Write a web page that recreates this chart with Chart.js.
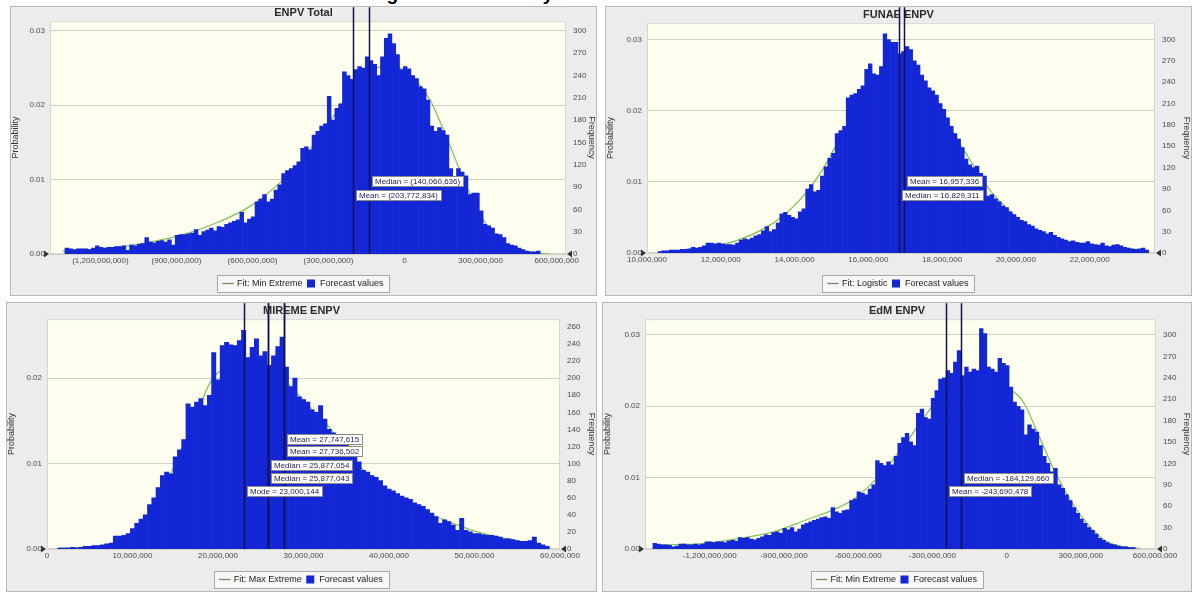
<!DOCTYPE html>
<html>
<head>
<meta charset="utf-8">
<script src="https://cdn.jsdelivr.net/npm/chart.js@4.4.1/dist/chart.umd.min.js"></script>
<style>
html,body{margin:0;padding:0;background:#fff;width:1192px;height:592px;overflow:hidden;font-family:"Liberation Sans",Arial,sans-serif;position:relative}
#figTitle{position:absolute;left:29px;top:-17px;width:1192px;text-align:center;font:bold 19px "Liberation Sans",Arial,sans-serif;color:#000;white-space:nowrap}
.panel{position:absolute;background:#ececec;outline:1px solid #b8b8b8;outline-offset:-1px;overflow:hidden}
.panel canvas{position:absolute;left:0;top:0}
</style>
</head>
<body>
<div id="figTitle">Figure 5: Probability Distributions of Stakeholder ENPVs</div>
<div class="panel" style="left:10px;top:6px;width:587px;height:290px"><canvas id="c1" width="587" height="292"></canvas></div>
<div class="panel" style="left:605px;top:6px;width:587px;height:290px"><canvas id="c2" width="587" height="292"></canvas></div>
<div class="panel" style="left:6px;top:302px;width:591px;height:290px"><canvas id="c3" width="591" height="292"></canvas></div>
<div class="panel" style="left:602px;top:302px;width:590px;height:290px"><canvas id="c4" width="590" height="292"></canvas></div>
<script>
// ---------------- DATA ----------------
// Panel 1: ENPV Total
const totalTitle = 'ENPV Total';
const totalFitName = 'Fit: Min Extreme';
const totalBinStart = -1340e6;
const totalBinWidth = 15e6;
const totalFreq = [8,7,6,7,7,7,6,8,11,9, 8,9,9,10,10,11,5,12,11,13, 14,22,16,15,17,18,16,19,12,25,
  26,26,27,28,33,25,30,32,35,31, 37,36,40,42,44,46,56,42,47,50, 70,74,80,70,74,86,93,108,112,115,
  119,124,142,144,140,160,165,172,175,212, 180,196,202,245,240,235,248,252,250,265,
  260,255,240,265,290,296,283,268,248,252, 249,240,236,225,222,207,172,165,170,166,
  160,115,104,115,110,105,80,82,82,58, 40,38,35,27,26,22,14,12,11,8, 6,4,3,3,4];
const totalFitX = [-1349e6,-1268e6,-1136e6,-1005e6,-873e6,-741e6,-610e6,-478e6,-399e6,-347e6,-281e6,-215e6,-149e6,-84e6,-18e6,48e6,101e6,140e6,180e6,219e6,259e6,298e6,338e6,377e6,443e6,509e6,574e6];
const totalFitY = [4,5,9,16,26,42,64,100,128,153,185,218,240,253,250,232,207,178,145,112,80,53,32,18,7,2,0];
const totalXTicks = [-1200e6,-900e6,-600e6,-300e6,0,300e6,600e6];
const totalFreqTicks = [0,30,60,90,120,150,180,210,240,270,300];
const totalProbTicks = [0,0.01,0.02,0.03];
const totalStatValues = [-140060636,-203772834];
const totalStatLabels = ['Median = (140,060,636)','Mean = (203,772,834)'];

// Panel 2: FUNAE ENPV
const funaeTitle = 'FUNAE ENPV';
const funaeFitName = 'Fit: Logistic';
const funaeBinStart = 10.3e6;
const funaeBinWidth = 0.1e6;
const funaeFreq = [2,3,3,4,4,4,5,5,6,8, 7,8,10,14,14,13,14,13,12,12, 11,14,18,20,19,21,24,26,31,37,
  30,33,42,55,57,53,50,48,58,62, 90,96,86,88,108,121,133,140,168,172, 178,218,222,224,230,235,258,266,252,250,
  262,308,300,296,296,280,283,290,286,270, 264,250,242,232,228,222,210,202,190,178,
  168,160,148,132,124,120,122,112,108,80, 82,76,72,66,64,58,54,50,46,44,
  40,38,34,32,30,27,29,25,22,20, 18,16,17,15,14,14,16,13,12,11, 14,10,9,11,12,10,8,7,6,5, 6,7,4];
const funaeFitX = [10.71e6,11.62e6,12.52e6,13.42e6,13.88e6,14.33e6,14.78e6,15.23e6,15.68e6,16.13e6,16.59e6,16.81e6,17.04e6,17.49e6,17.94e6,18.39e6,18.84e6,19.30e6,19.75e6,20.20e6,20.65e6,21.10e6,21.55e6,22.46e6,23.36e6];
const funaeFitY = [2,7,19,42,61,86,119,162,204,239,257,260,255,236,204,162,124,88,63,42,28,19,12,5,2];
const funaeXTicks = [10e6,12e6,14e6,16e6,18e6,20e6,22e6];
const funaeFreqTicks = [0,30,60,90,120,150,180,210,240,270,300];
const funaeProbTicks = [0,0.01,0.02,0.03];
const funaeStatValues = [16957336,16829311];
const funaeStatLabels = ['Mean = 16,957,336','Median = 16,829,311'];

// Panel 3: MIREME ENPV
const miremeTitle = 'MIREME ENPV';
const miremeFitName = 'Fit: Max Extreme';
const miremeBinStart = 1.25e6;
const miremeBinWidth = 0.5e6;
const miremeFreq = [1,1,1,2,1,2,3,3,4,4, 5,6,7,15,15,16,18,24,30,35, 40,52,60,72,86,90,88,108,116,128,
  170,166,172,176,168,180,230,198,238,242, 239,238,244,256,224,236,246,226,231,215,
  226,237,248,213,190,200,178,175,172,163, 160,168,152,140,136,131,128,122,118,108,
  102,92,90,86,84,80,74,70,68,65, 62,60,58,54,52,50,46,42,38,30, 34,32,28,22,36,22,20,18,18,17,
  16,16,15,14,12,12,11,10,9,9, 10,14,7,5,3];
const miremeFitX = [1.40e6,7.45e6,9.40e6,11.35e6,13.30e6,15.24e6,17.19e6,19.14e6,21.09e6,23.82e6,26.94e6,28.50e6,30.84e6,32.79e6,36.29e6,38.63e6,42.53e6,46.43e6,50.33e6,54.23e6,58.13e6];
const miremeFitY = [1,5,12,30,61,106,149,196,212,214,204,190,165,145,100,79,51,34,20,11,3];
const miremeXTicks = [0,10e6,20e6,30e6,40e6,50e6,60e6];
const miremeFreqTicks = [0,20,40,60,80,100,120,140,160,180,200,220,240,260];
const miremeProbTicks = [0,0.01,0.02];
const miremeStatValues = [27747615,27736502,25877054,25877043,23000144];
const miremeStatLabels = ['Mean = 27,747,615','Mean = 27,736,502','Median = 25,877,054','Median = 25,877,043','Mode = 23,000,144'];

// Panel 4: EdM ENPV
const edmTitle = 'EdM ENPV';
const edmFitName = 'Fit: Min Extreme';
const edmBinStart = -1430e6;
const edmBinWidth = 15e6;
const edmFreq = [8,7,6,6,5,3,4,7,7,6, 6,7,6,7,10,10,9,10,10,9, 11,12,11,16,15,16,14,13,15,17,
  20,19,23,24,22,29,27,30,24,28, 34,36,38,40,42,44,45,43,58,52, 50,54,55,68,70,80,78,76,84,90,
  124,120,117,122,118,130,148,156,162,150, 145,190,196,184,182,211,222,238,240,250,
  246,262,278,243,255,248,252,250,309,302, 255,252,248,267,260,257,227,206,200,195,
  160,174,168,164,145,130,120,108,113,90, 85,76,68,58,50,42,36,30,26,21, 15,12,9,7,6,4,3,3,2,2];
const edmFitX = [-1425.6e6,-1347.5e6,-1212.5e6,-1077.9e6,-943.3e6,-808.2e6,-673.6e6,-606.1e6,-539e6,-471.4e6,-403.9e6,-336.8e6,-269.3e6,-201.8e6,-134.6e6,-67.1e6,0,67.5e6,135e6,202.6e6,269.7e6,337.2e6,404.7e6,471.8e6,539.3e6];
const edmFitY = [5,6,8,15,24,41,59,73,94,120,150,183,213,232,241,239,227,206,155,103,62,31,10,3,1];
const edmXTicks = [-1200e6,-900e6,-600e6,-300e6,0,300e6,600e6];
const edmFreqTicks = [0,30,60,90,120,150,180,210,240,270,300];
const edmProbTicks = [0,0.01,0.02,0.03];
const edmStatValues = [-184129660,-243690478];
const edmStatLabels = ['Median = -184,129,660','Mean = -243,690,478'];

const TRIALS = 10000;

// ---------------- RENDERING ----------------
const FONT = '"Liberation Sans", Arial, sans-serif';
Chart.defaults.font.family = FONT;
Chart.defaults.animation = false;

function commas(n){ return Math.round(Math.abs(n)).toString().replace(/\B(?=(\d{3})+(?!\d))/g, ','); }
const fmtParen = v => v < 0 ? '(' + commas(v) + ')' : commas(v);
const fmtMinus = v => v < 0 ? '-' + commas(v) : commas(v);
const fmtPlain = v => commas(v);

function makePanel(p){
  const ext = p.style;
  const bars = p.freq.map((f,i) => ({x: p.binStart + (i + 0.5) * p.binWidth, y: f}));
  const fit = p.fitX.map((x,i) => ({x: x, y: p.fitY[i]}));
  const deco = {
    id: 'deco',
    beforeDraw(chart){
      const {ctx, chartArea: a} = chart;
      ctx.save();
      ctx.fillStyle = '#fffff0';
      ctx.fillRect(a.left, a.top, a.right - a.left, a.bottom - a.top);
      ctx.strokeStyle = '#d6d6d0';
      ctx.lineWidth = 1;
      ctx.strokeRect(a.left + 0.5, a.top + 0.5, a.right - a.left - 1, a.bottom - a.top - 1);
      const hb = chart.legend && chart.legend.legendHitBoxes;
      if (hb && hb.length){
        let x0 = Infinity, x1 = -Infinity, y0 = Infinity, y1 = -Infinity;
        hb.forEach(h => { x0 = Math.min(x0, h.left); x1 = Math.max(x1, h.left + h.width); y0 = Math.min(y0, h.top); y1 = Math.max(y1, h.top + h.height); });
        ctx.fillStyle = '#f7f7f7';
        ctx.fillRect(x0 - 6, y0 - 4, x1 - x0 + 12, y1 - y0 + 8);
        ctx.strokeStyle = '#a8a8a8';
        ctx.strokeRect(Math.round(x0 - 6) + 0.5, Math.round(y0 - 4) + 0.5, Math.round(x1 - x0 + 12), Math.round(y1 - y0 + 8));
      }
      ctx.restore();
    },
    afterDatasetsDraw(chart){
      const {ctx, chartArea: a, scales: {x}} = chart;
      ctx.save();
      ctx.strokeStyle = '#12124e';
      ctx.lineWidth = 1.5;
      p.stats.forEach(v => {
        const px = Math.round(x.getPixelForValue(v)) + 0.5;
        ctx.beginPath(); ctx.moveTo(px, a.bottom); ctx.lineTo(px, a.top - ext.lineExt); ctx.stroke();
      });
      ctx.font = '8px ' + FONT;
      ctx.textBaseline = 'middle';
      p.statLabels.forEach((t,i) => {
        const bx = Math.round(x.getPixelForValue(p.stats[i]) + 3);
        const by = Math.round(a.top + ext.boxTops[i]);
        const w = Math.round(ctx.measureText(t).width + 6);
        ctx.fillStyle = '#ffffff';
        ctx.fillRect(bx, by, w, 10);
        ctx.strokeStyle = '#8a8a8a'; ctx.lineWidth = 1;
        ctx.strokeRect(bx + 0.5, by + 0.5, w, 10);
        ctx.fillStyle = '#1c1c55';
        ctx.fillText(t, bx + 3, by + 5.5);
      });
      // certainty grabbers
      ctx.fillStyle = '#333';
      ctx.beginPath(); ctx.moveTo(a.left - 6, a.bottom - 3.5); ctx.lineTo(a.left - 1, a.bottom); ctx.lineTo(a.left - 6, a.bottom + 3.5); ctx.closePath(); ctx.fill();
      ctx.beginPath(); ctx.moveTo(a.right + 6, a.bottom - 3.5); ctx.lineTo(a.right + 1, a.bottom); ctx.lineTo(a.right + 6, a.bottom + 3.5); ctx.closePath(); ctx.fill();
      ctx.restore();
    }
  };
  return new Chart(document.getElementById(p.canvas), {
    type: 'bar',
    data: {
      datasets: [
        { type: 'line', label: p.fitName, data: fit, borderColor: '#86c25c', backgroundColor: '#86c25c', borderWidth: 1.3,
          pointRadius: 0, pointHoverRadius: 0, cubicInterpolationMode: 'monotone', fill: false, yAxisID: 'yFreq', xAxisID: 'x', order: 1 },
        { type: 'bar', label: 'Forecast values', data: bars, backgroundColor: '#1327d6', borderColor: '#1327d6', borderWidth: 0,
          barPercentage: 1, categoryPercentage: 1, yAxisID: 'yFreq', xAxisID: 'x', order: 0 }
      ]
    },
    options: {
      responsive: false,
      devicePixelRatio: 1,
      animation: false,
      events: [],
      layout: { padding: { top: ext.padTop, left: 0, right: 0, bottom: 0 } },
      plugins: {
        tooltip: { enabled: false },
        title: { display: true, text: p.title, color: '#2a2a2a', font: { size: 11, weight: 'bold', family: FONT }, padding: { top: 0, bottom: 2 } },
        legend: {
          position: 'bottom',
          labels: {
            font: { size: 9, family: FONT }, color: '#222', usePointStyle: true, boxWidth: 10, boxHeight: 8, padding: 4,
            sort: (a, b) => a.datasetIndex - b.datasetIndex,
            generateLabels(chart){
              const items = Chart.defaults.plugins.legend.labels.generateLabels(chart);
              items.forEach(it => { it.pointStyle = it.datasetIndex === 0 ? 'line' : 'rect'; if (it.datasetIndex === 0) it.strokeStyle = '#6f8f5a'; });
              return items;
            }
          }
        }
      },
      scales: {
        x: {
          type: 'linear', position: 'bottom', min: p.xMin, max: p.xMax, bounds: 'data', offset: false,
          afterBuildTicks: s => { s.ticks = p.xTicks.map(v => ({value: v})); },
          afterFit: s => { s.height = ext.xH; },
          ticks: { font: { size: 8, family: FONT }, color: '#4a4a4a', padding: 2, maxRotation: 0, autoSkip: false, callback: v => p.xFmt(v) },
          grid: { display: false, drawTicks: false, offset: false },
          border: { display: false }
        },
        yProb: {
          type: 'linear', position: 'left', min: 0, max: p.freqMax / TRIALS, bounds: 'data',
          afterBuildTicks: s => { s.ticks = p.probTicks.map(v => ({value: v})); },
          afterFit: s => { s.width = ext.leftW; },
          ticks: { font: { size: 8, family: FONT }, color: '#4a4a4a', padding: 5, callback: v => Number(v).toFixed(2) },
          grid: { color: '#d2d2c2', lineWidth: 1, drawTicks: false },
          border: { display: false },
          title: { display: true, text: 'Probability', color: '#333', font: { size: 9, family: FONT }, padding: 0 }
        },
        yFreq: {
          type: 'linear', position: 'right', min: 0, max: p.freqMax, bounds: 'data',
          afterBuildTicks: s => { s.ticks = p.freqTicks.map(v => ({value: v})); },
          afterFit: s => { s.width = ext.rightW; },
          ticks: { font: { size: 8, family: FONT }, color: '#4a4a4a', padding: 7 },
          grid: { display: false, drawTicks: false },
          border: { display: false },
          title: { display: true, text: 'Frequency', color: '#333', font: { size: 9, family: FONT }, padding: 0 }
        }
      }
    },
    plugins: [deco]
  });
}

makePanel({ canvas: 'c1', title: totalTitle, fitName: totalFitName, binStart: totalBinStart, binWidth: totalBinWidth,
  freq: totalFreq, fitX: totalFitX, fitY: totalFitY, xMin: -1399e6, xMax: 637e6, xTicks: totalXTicks, xFmt: fmtParen,
  freqMax: 313, freqTicks: totalFreqTicks, probTicks: totalProbTicks, stats: totalStatValues, statLabels: totalStatLabels,
  style: { padTop: 0, leftW: 40, rightW: 31, xH: 21, lineExt: 14, boxTops: [155, 169] } });

makePanel({ canvas: 'c2', title: funaeTitle, fitName: funaeFitName, binStart: funaeBinStart, binWidth: funaeBinWidth,
  freq: funaeFreq, fitX: funaeFitX, fitY: funaeFitY, xMin: 10e6, xMax: 23.77e6, xTicks: funaeXTicks, xFmt: fmtPlain,
  freqMax: 323, freqTicks: funaeFreqTicks, probTicks: funaeProbTicks, stats: funaeStatValues, statLabels: funaeStatLabels,
  style: { padTop: 2, leftW: 42, rightW: 37, xH: 22, lineExt: 16, boxTops: [153, 167] } });

makePanel({ canvas: 'c3', title: miremeTitle, fitName: miremeFitName, binStart: miremeBinStart, binWidth: miremeBinWidth,
  freq: miremeFreq, fitX: miremeFitX, fitY: miremeFitY, xMin: 0, xMax: 60e6, xTicks: miremeXTicks, xFmt: fmtPlain,
  freqMax: 269, freqTicks: miremeFreqTicks, probTicks: miremeProbTicks, stats: miremeStatValues, statLabels: miremeStatLabels,
  style: { padTop: 2, leftW: 41, rightW: 37, xH: 22, lineExt: 16, boxTops: [115, 127, 141, 154, 167] } });

makePanel({ canvas: 'c4', title: edmTitle, fitName: edmFitName, binStart: edmBinStart, binWidth: edmBinWidth,
  freq: edmFreq, fitX: edmFitX, fitY: edmFitY, xMin: -1462e6, xMax: 604e6, xTicks: edmXTicks, xFmt: fmtMinus,
  freqMax: 322, freqTicks: edmFreqTicks, probTicks: edmProbTicks, stats: edmStatValues, statLabels: edmStatLabels,
  style: { padTop: 2, leftW: 43, rightW: 36, xH: 22, lineExt: 16, boxTops: [154, 167] } });
</script>
</body>
</html>
